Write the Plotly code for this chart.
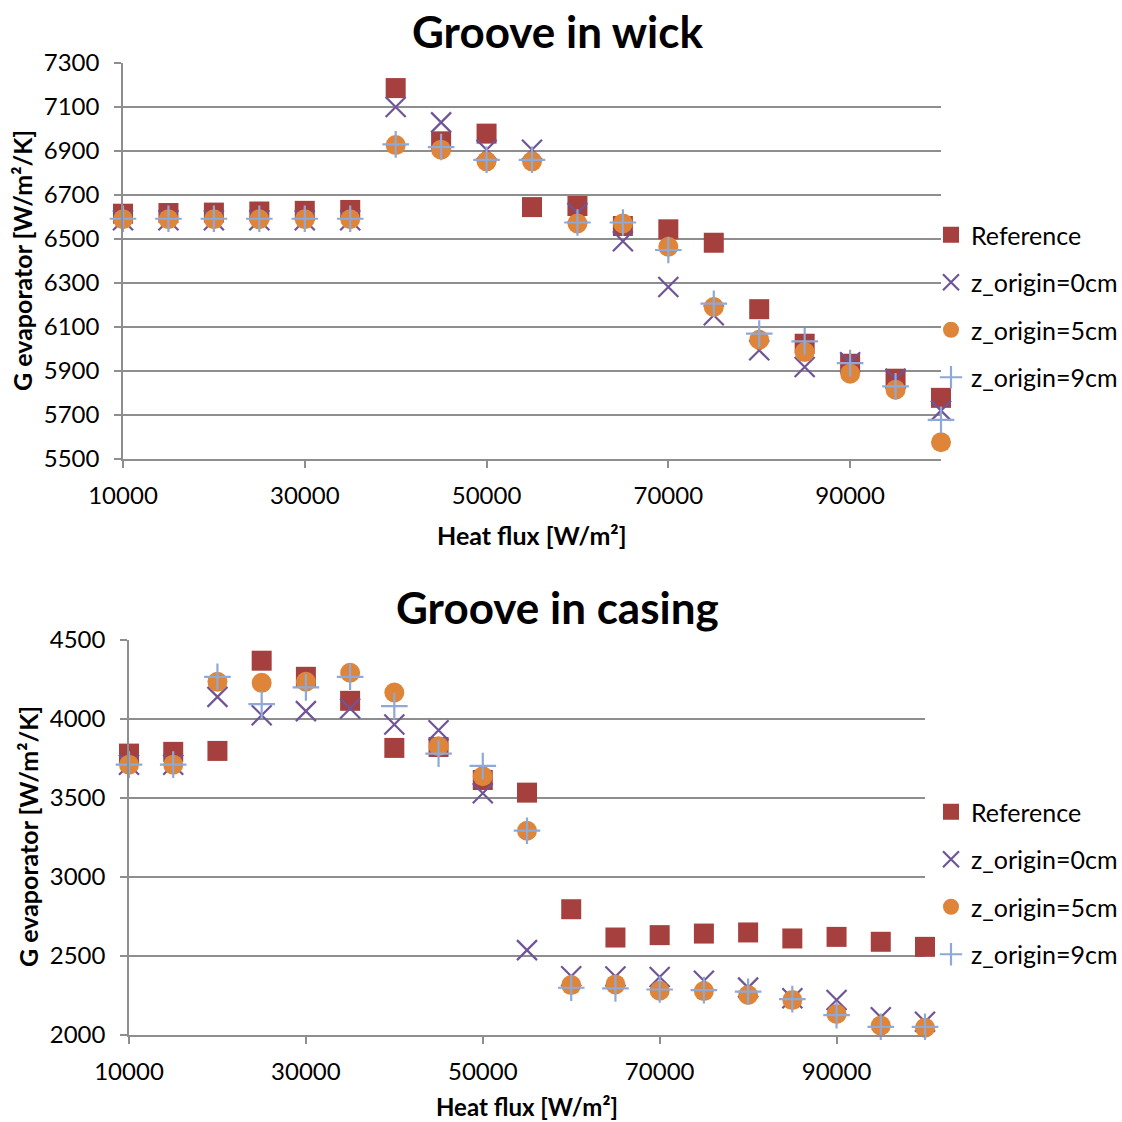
import plotly.graph_objects as go

W = H = 1122
OFF = 0  # body margin is removed by the post script below

heat_flux = [10000, 15000, 20000, 25000, 30000, 35000, 40000, 45000, 50000, 55000,
             60000, 65000, 70000, 75000, 80000, 85000, 90000, 95000, 100000]

series_names = ["Reference", "z_origin=0cm", "z_origin=5cm", "z_origin=9cm"]

# Groove in wick
wick_ref = [6615, 6618, 6620, 6625, 6628, 6632, 7186, 6944, 6979, 6645,
            6650, 6559, 6544, 6483, 6181, 6024, 5933, 5865, 5778]
wick_z0 = [6585, 6585, 6585, 6585, 6585, 6585, 7100, 7030, 6906, 6906,
           6618, 6490, 6282, 6153, 5994, 5918, 5940, 5865, 5720]
wick_z5 = [6590, 6590, 6590, 6590, 6590, 6590, 6927, 6906, 6853, 6853,
           6571, 6571, 6465, 6191, 6042, 5986, 5888, 5815, 5576]
wick_z9 = [6592, 6592, 6592, 6592, 6592, 6592, 6930, 6918, 6860, 6860,
           6575, 6575, 6450, 6206, 6070, 6035, 5936, 5830, 5678]

# Groove in casing
casing_ref = [3781, 3792, 3798, 4369, 4267, 4115, 3817, 3823, 3614, 3534,
              2796, 2617, 2632, 2642, 2649, 2611, 2621, 2590, 2558]
casing_z0 = [3710, 3710, 4140, 4024, 4050, 4067, 3965, 3929, 3530, 2537,
             2372, 2370, 2367, 2343, 2300, 2232, 2222, 2112, 2084]
casing_z5 = [3711, 3711, 4236, 4229, 4236, 4293, 4168, 3828, 3638, 3293,
             2316, 2320, 2280, 2278, 2253, 2221, 2133, 2059, 2046]
casing_z9 = [3711, 3711, 4267, 4094, 4200, 4267, 4081, 3781, 3703, 3293,
             2299, 2295, 2288, 2284, 2274, 2227, 2126, 2052, 2052]

FONT = "Lato, Carlito, Calibri, 'Open Sans', sans-serif"
GRID = "#8E8E8E"

styles = [
    dict(symbol="square", size=20, color="#A5403E"),
    dict(symbol="x-thin", size=20, color="rgba(0,0,0,0)", line=dict(color="#6F5497", width=2.2)),
    dict(symbol="circle", size=20, color="#DE8539"),
    dict(symbol="cross-thin", size=19, color="rgba(0,0,0,0)", line=dict(color="#8EA8D8", width=2.2)),
]

fig = go.Figure()

def px_x(p):
    return (p - OFF) / W

def px_y(p):
    return 1 - (p - OFF) / H

panels = [
    dict(data=[wick_ref, wick_z0, wick_z5, wick_z9], xa="x", ya="y", legend="legend", grp="w"),
    dict(data=[casing_ref, casing_z0, casing_z5, casing_z9], xa="x2", ya="y2", legend="legend2", grp="c"),
]

for p in panels:
    for name, vals, st in zip(series_names, p["data"], styles):
        fig.add_trace(go.Scatter(
            x=heat_flux, y=vals, mode="markers", name=name,
            marker=st, xaxis=p["xa"], yaxis=p["ya"], legend=p["legend"],
            legendgroup=p["grp"] + name, cliponaxis=False,
        ))

base = dict(
    showline=True, linecolor=GRID, linewidth=1.5,
    ticks="outside", ticklen=7, tickcolor=GRID, tickwidth=1.5,
    zeroline=False, automargin=False, tickformat="d",
    tickfont=dict(family=FONT, size=24, color="#000"),
)
xbase = dict(base, showgrid=False, range=[10000, 100000], tick0=10000, dtick=20000,
             ticklabelstandoff=7)
ybase = dict(base, showgrid=True, gridcolor=GRID, gridwidth=1.5, ticklabelstandoff=10)

legend_common = dict(xanchor="left", yanchor="middle",
                     font=dict(family=FONT, size=25, color="#000"), tracegroupgap=12,
                     bgcolor="rgba(0,0,0,0)")

fig.update_layout(
    width=W, height=H, margin=dict(l=0, r=0, t=0, b=0, autoexpand=False),
    paper_bgcolor="white", plot_bgcolor="white", showlegend=True,
    xaxis=dict(xbase, domain=[px_x(123), px_x(941)], anchor="y"),
    yaxis=dict(ybase, domain=[px_y(459), px_y(63)], range=[5500, 7300], tick0=5500, dtick=200, anchor="x"),
    xaxis2=dict(xbase, domain=[px_x(129), px_x(925)], anchor="y2"),
    yaxis2=dict(ybase, domain=[px_y(1035), px_y(640)], range=[2000, 4500], tick0=2000, dtick=500, anchor="x2"),
    legend=dict(legend_common, x=px_x(931), y=px_y(306)),
    legend2=dict(legend_common, x=px_x(931), y=px_y(883)),
)

def ann(text, x, y, size, angle=0):
    fig.add_annotation(text=text, x=px_x(x), y=px_y(y), xref="paper", yref="paper",
                       showarrow=False, xanchor="center", yanchor="middle", textangle=angle,
                       borderpad=0, font=dict(family=FONT, size=size, color="#000"))

ann("<b>Groove in wick</b>", 557, 31, 44)
ann("<b>Groove in casing</b>", 557, 607, 44)
ann("<b>Heat flux [W/m²]</b>", 532, 535, 25)
ann("<b>Heat flux [W/m²]</b>", 527, 1106, 24)
ann("<b>G evaporator [W/m²/K]</b>", 22, 261, 25, -90)
ann("<b>G evaporator [W/m²/K]</b>", 28, 837, 25, -90)

fig.write_html(
    "out.html",
    config={"displayModeBar": False},
    post_script="document.body.style.margin='0';document.documentElement.style.overflow='hidden';",
)
